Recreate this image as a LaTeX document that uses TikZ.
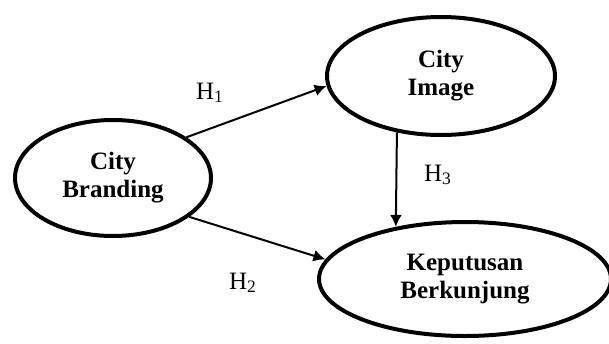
\documentclass[tikz,border=0pt]{standalone}
\usepackage{fontspec}
\setmainfont{Liberation Serif}
\usepackage{tikz}
\usetikzlibrary{shapes.geometric,arrows.meta}
\tikzset{
    construct/.style = {
        draw,
        shape=ellipse,
        inner sep=0pt,
        line width=2pt,
        align=center,
        font=\fontsize{12.5}{14}\selectfont\bfseries
    },
    hyp/.style = {
        font=\fontsize{12.5}{14}\selectfont
    },
    link/.style = {
        draw,
        line width=1pt,
        ->
    },
    >={Latex[length=6pt,width=6pt]},
}

\begin{document}
\begin{tikzpicture}[x=0.5pt,y=-0.5pt]
                \useasboundingbox (0,0) rectangle (609,343);
                \node[construct, minimum width=98pt, minimum height=58pt] (brand) at (113,178) {City\\Branding};
                \node[construct, minimum width=114pt, minimum height=59pt] (img) at (441,76) {City\\Image};
                \node[construct, minimum width=146pt, minimum height=57pt] (kep) at (465,279) {Keputusan\\Berkunjung};

                \path[link] (brand.29) -- (img.185);
                \path[link] (brand.-27) -- (kep.172);
                \path[link] (img.232) -- (kep.143);

                \node[hyp] (h1) at (210,93) {H\textsubscript{1}};
                \node[hyp] (h2) at (243,283) {H\textsubscript{2}};
                \node[hyp] (h3) at (438,175) {H\textsubscript{3}};
\end{tikzpicture}
\end{document}
